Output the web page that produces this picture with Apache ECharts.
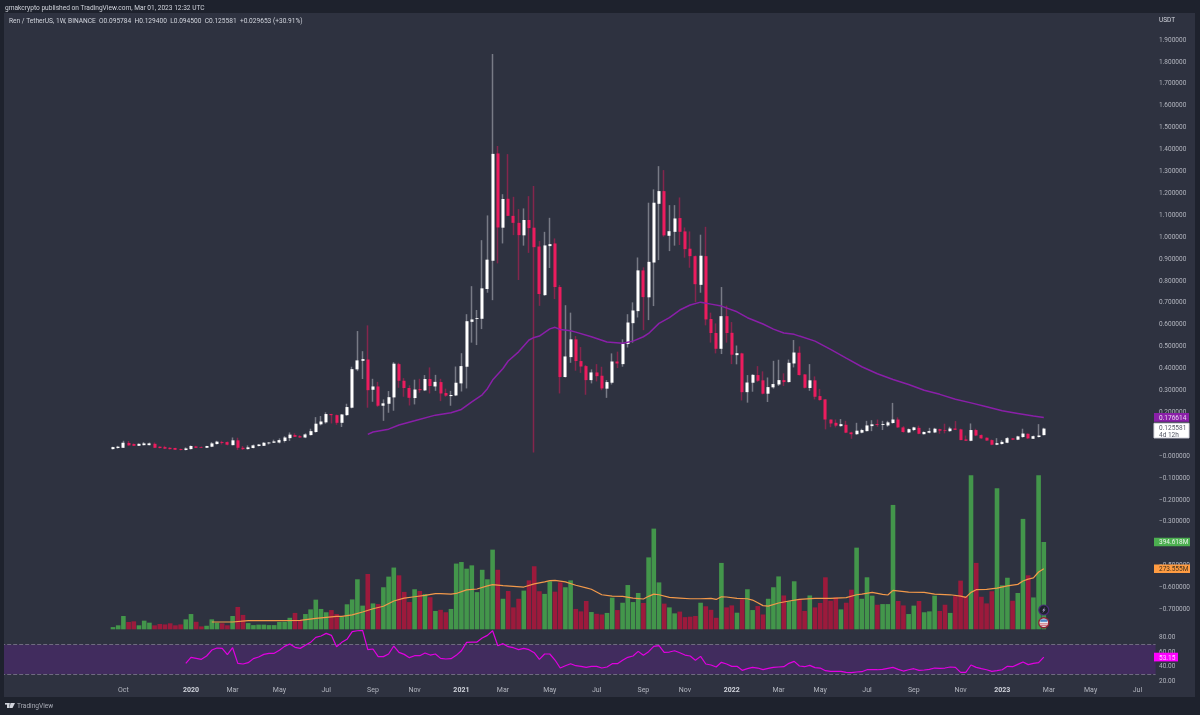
<!DOCTYPE html>
<html>
<head>
<meta charset="utf-8">
<title>Ren / TetherUS</title>
<script src="https://cdn.jsdelivr.net/npm/echarts@6/dist/echarts.min.js"></script>
<style>
html, body { margin: 0; padding: 0; background: #1e222d; }
#main { width: 1200px; height: 715px; }
</style>
</head>
<body>
<div id="main"></div>
<script>
// weekly candles, Monday of each week
var weeks = [
	'2019-09-23','2019-09-30','2019-10-07','2019-10-14','2019-10-21','2019-10-28','2019-11-04','2019-11-11','2019-11-18','2019-11-25',
	'2019-12-02','2019-12-09','2019-12-16','2019-12-23','2019-12-30','2020-01-06','2020-01-13','2020-01-20','2020-01-27','2020-02-03',
	'2020-02-10','2020-02-17','2020-02-24','2020-03-02','2020-03-09','2020-03-16','2020-03-23','2020-03-30','2020-04-06','2020-04-13',
	'2020-04-20','2020-04-27','2020-05-04','2020-05-11','2020-05-18','2020-05-25','2020-06-01','2020-06-08','2020-06-15','2020-06-22',
	'2020-06-29','2020-07-06','2020-07-13','2020-07-20','2020-07-27','2020-08-03','2020-08-10','2020-08-17','2020-08-24','2020-08-31',
	'2020-09-07','2020-09-14','2020-09-21','2020-09-28','2020-10-05','2020-10-12','2020-10-19','2020-10-26','2020-11-02','2020-11-09',
	'2020-11-16','2020-11-23','2020-11-30','2020-12-07','2020-12-14','2020-12-21','2020-12-28','2021-01-04','2021-01-11','2021-01-18',
	'2021-01-25','2021-02-01','2021-02-08','2021-02-15','2021-02-22','2021-03-01','2021-03-08','2021-03-15','2021-03-22','2021-03-29',
	'2021-04-05','2021-04-12','2021-04-19','2021-04-26','2021-05-03','2021-05-10','2021-05-17','2021-05-24','2021-05-31','2021-06-07',
	'2021-06-14','2021-06-21','2021-06-28','2021-07-05','2021-07-12','2021-07-19','2021-07-26','2021-08-02','2021-08-09','2021-08-16',
	'2021-08-23','2021-08-30','2021-09-06','2021-09-13','2021-09-20','2021-09-27','2021-10-04','2021-10-11','2021-10-18','2021-10-25',
	'2021-11-01','2021-11-08','2021-11-15','2021-11-22','2021-11-29','2021-12-06','2021-12-13','2021-12-20','2021-12-27','2022-01-03',
	'2022-01-10','2022-01-17','2022-01-24','2022-01-31','2022-02-07','2022-02-14','2022-02-21','2022-02-28','2022-03-07','2022-03-14',
	'2022-03-21','2022-03-28','2022-04-04','2022-04-11','2022-04-18','2022-04-25','2022-05-02','2022-05-09','2022-05-16','2022-05-23',
	'2022-05-30','2022-06-06','2022-06-13','2022-06-20','2022-06-27','2022-07-04','2022-07-11','2022-07-18','2022-07-25','2022-08-01',
	'2022-08-08','2022-08-15','2022-08-22','2022-08-29','2022-09-05','2022-09-12','2022-09-19','2022-09-26','2022-10-03','2022-10-10',
	'2022-10-17','2022-10-24','2022-10-31','2022-11-07','2022-11-14','2022-11-21','2022-11-28','2022-12-05','2022-12-12','2022-12-19',
	'2022-12-26','2023-01-02','2023-01-09','2023-01-16','2023-01-23','2023-01-30','2023-02-06','2023-02-13','2023-02-20','2023-02-27'
];
// empty weeks on the right of the last candle
var futureWeeks = ['2023-03-06','2023-03-13','2023-03-20','2023-03-27','2023-04-03','2023-04-10','2023-04-17','2023-04-24','2023-05-01','2023-05-08',
	'2023-05-15','2023-05-22','2023-05-29','2023-06-05','2023-06-12','2023-06-19','2023-06-26','2023-07-03','2023-07-10','2023-07-17','2023-07-24'];
var tickDates = ['2019-10-07','2020-01-06','2020-03-02','2020-05-04','2020-07-06','2020-09-07','2020-11-02','2021-01-04','2021-03-01','2021-05-03','2021-07-05','2021-09-06',
	'2021-11-01','2022-01-03','2022-03-07','2022-05-02','2022-07-04','2022-09-05','2022-11-07','2023-01-02','2023-03-06','2023-05-01','2023-07-03'];
var tickNames = ['Oct','2020','Mar','May','Jul','Sep','Nov','2021','Mar','May','Jul','Sep','Nov','2022','Mar','May','Jul','Sep','Nov','2023','Mar','May','Jul'];

var opens = [
	.032,.037,.038,.060,.055,.047,.050,.050,.056,.043,
	.041,.038,.037,.032,.028,.032,.044,.041,.038,.043,
	.055,.064,.064,.050,.072,.038,.032,.037,.046,.047,
	.058,.061,.062,.069,.082,.096,.091,.085,.096,.110,
	.145,.154,.192,.187,.152,.187,.221,.396,.435,.441,
	.303,.318,.230,.239,.268,.420,.344,.311,.265,.306,
	.300,.352,.318,.338,.288,.274,.277,.332,.408,.613,
	.626,.627,.763,.892,1.382,1.043,1.175,1.097,1.065,1.008,
	1.078,1.043,.957,.735,.959,.971,.772,.361,.452,.533,
	.434,.411,.347,.382,.367,.308,.335,.432,.420,.512,
	.607,.662,.848,.725,.884,1.152,1.210,1.006,1.024,1.087,
	1.026,.947,.913,.782,.913,.626,.562,.490,.639,.563,
	.461,.469,.292,.335,.370,.346,.285,.314,.327,.347,
	.338,.423,.472,.373,.311,.346,.274,.259,.167,.152,
	.137,.143,.108,.100,.107,.114,.137,.146,.142,.140,
	.151,.167,.131,.108,.119,.129,.100,.107,.108,.123,
	.119,.114,.126,.122,.076,.070,.119,.096,.084,.073,
	.052,.055,.061,.081,.075,.087,.102,.079,.087,.095784
];
var closes = [
	.041,.043,.061,.049,.047,.056,.058,.058,.038,.037,
	.034,.032,.029,.028,.035,.046,.038,.038,.046,.058,
	.066,.060,.052,.072,.038,.032,.040,.049,.053,.061,
	.062,.067,.073,.085,.098,.088,.085,.099,.114,.148,
	.158,.192,.187,.152,.190,.224,.397,.437,.443,.301,
	.318,.230,.241,.269,.422,.344,.311,.266,.304,.301,
	.352,.320,.339,.286,.276,.279,.335,.411,.616,.624,
	.630,.766,.897,1.380,1.044,1.174,1.097,1.065,1.009,1.078,
	1.041,.954,.740,.962,.968,.772,.361,.455,.533,.434,
	.409,.347,.382,.365,.309,.338,.432,.423,.513,.610,
	.665,.848,.726,.887,1.157,1.210,1.008,1.027,1.085,1.024,
	.945,.913,.785,.915,.624,.562,.490,.639,.562,.463,
	.470,.292,.336,.371,.344,.285,.315,.329,.347,.338,
	.426,.473,.370,.312,.346,.271,.256,.167,.149,.139,
	.146,.107,.100,.116,.119,.140,.145,.142,.146,.154,
	.167,.131,.110,.123,.131,.102,.110,.114,.125,.116,
	.116,.126,.120,.073,.070,.119,.094,.081,.071,.052,
	.059,.065,.082,.075,.090,.103,.081,.091,.094,.125581
];
var highs = [
	.043,.047,.070,.069,.058,.058,.064,.062,.062,.044,
	.047,.040,.038,.034,.040,.049,.047,.044,.047,.064,
	.070,.070,.067,.085,.084,.046,.049,.053,.055,.064,
	.064,.075,.081,.091,.108,.104,.096,.104,.125,.178,
	.183,.200,.193,.190,.192,.239,.408,.571,.479,.597,
	.353,.339,.259,.297,.429,.426,.356,.323,.349,.353,
	.370,.405,.371,.353,.308,.298,.409,.470,.648,.776,
	.667,.986,1.099,1.836,1.416,1.196,1.379,1.184,1.128,1.131,
	1.187,1.233,.982,1.024,1.088,.994,.781,.689,.655,.548,
	.498,.416,.396,.420,.408,.347,.469,.477,.533,.648,
	.702,.907,.862,1.157,1.218,1.324,1.306,1.146,1.146,1.181,
	1.044,1.026,.916,1.011,1.047,.655,.606,.772,.687,.612,
	.505,.472,.370,.374,.411,.387,.359,.435,.440,.378,
	.441,.530,.501,.374,.420,.364,.307,.259,.167,.167,
	.169,.161,.111,.152,.125,.161,.164,.167,.161,.161,
	.243,.177,.137,.126,.134,.139,.113,.129,.129,.125,
	.148,.134,.160,.125,.094,.149,.125,.099,.085,.076,
	.082,.073,.087,.082,.093,.125,.103,.094,.146,.1294
];
var lows = [
	.030,.034,.037,.047,.046,.046,.049,.049,.037,.035,
	.032,.030,.028,.026,.026,.030,.037,.037,.037,.041,
	.053,.053,.049,.049,.028,.028,.030,.035,.044,.046,
	.053,.060,.058,.062,.069,.087,.084,.082,.094,.107,
	.140,.148,.149,.143,.133,.184,.218,.388,.352,.221,
	.248,.225,.161,.198,.207,.312,.271,.231,.236,.289,
	.297,.286,.298,.251,.271,.230,.274,.295,.309,.518,
	.507,.580,.746,.712,.880,.971,1.096,1.009,.804,.961,
	.928,.017,.686,.732,.859,.717,.286,.359,.426,.390,
	.380,.280,.332,.341,.301,.266,.327,.402,.408,.496,
	.518,.633,.575,.621,.685,.895,1.002,.936,.961,.964,
	.906,.860,.703,.746,.597,.518,.469,.466,.518,.420,
	.419,.254,.244,.294,.339,.282,.247,.308,.320,.320,
	.336,.405,.368,.309,.298,.259,.253,.122,.132,.131,
	.134,.105,.079,.097,.104,.113,.114,.134,.119,.134,
	.148,.129,.107,.105,.114,.100,.099,.104,.105,.102,
	.104,.111,.119,.073,.070,.068,.091,.079,.070,.050,
	.050,.053,.059,.073,.073,.084,.079,.078,.085,.0945
];
// volume in millions
var volumes = [
	10,18,60,33,36,18,39,30,18,24,
	22,27,18,22,45,69,34,13,16,45,
	30,27,18,60,101,65,28,19,21,21,
	19,19,33,34,52,74,40,69,90,134,
	92,77,87,69,57,113,135,226,107,250,
	117,114,190,238,279,244,169,123,181,173,
	159,145,83,88,77,92,297,304,274,289,
	168,269,226,360,269,138,173,99,138,175,
	221,285,172,160,217,170,212,190,221,92,
	81,128,78,70,67,74,143,87,120,200,
	123,164,119,325,455,212,116,99,72,80,
	55,57,60,120,104,88,52,300,99,108,
	75,135,181,87,105,67,138,190,239,153,
	128,217,134,83,153,99,119,235,129,144,
	90,120,179,369,138,235,152,111,114,114,
	562,128,108,69,107,128,77,81,152,83,
	111,74,150,220,150,696,300,147,117,172,
	637,199,233,129,164,499,244,144,696,394.618
];
// 50 week average on price, read at these candle numbers
var maWeeks = [49,50,53,55,58,62,65,67,69,71,72,73,75,76,78,80,81,82,84,85,86,88,89,92,95,98,100,102,103,105,107,109,111,113,115,117,120,122,125,127,129,131,132,135,138,141,144,147,150,153,156,159,162,165,168,171,174,177,179];
var maValues = [.099,.110,.123,.142,.161,.187,.198,.213,.248,.280,.308,.347,.400,.434,.476,.530,.542,.548,.581,.588,.578,.572,.566,.545,.521,.515,.525,.545,.560,.606,.632,.667,.690,.703,.694,.685,.659,.632,.603,.580,.562,.556,.548,.525,.487,.447,.408,.376,.350,.327,.301,.282,.260,.243,.225,.207,.195,.183,.176614];
// 20 week average on volume
var volMaWeeks = [19,23,26,32,36,39,43,44,46,48,50,52,54,56,58,60,62,63,65,66,68,70,72,73,75,77,79,81,83,84,85,87,89,91,92,94,96,98,100,102,103,104,105,107,109,111,113,115,116,117,118,120,122,123,124,125,126,128,130,132,135,138,141,143,144,146,148,149,150,153,156,158,161,163,164,165,166,168,170,172,174,175,176,177,178,179];
var volMaValues = [33,33,39,39,40,49,58,58,65,78,93,104,128,141,147,153,161,161,159,162,178,182,196,202,197,194,191,205,214,220,221,214,199,187,181,156,150,149,141,137,149,159,156,144,141,138,138,140,135,147,146,140,138,132,120,107,105,119,128,135,140,140,143,156,159,167,158,155,176,168,167,159,156,150,144,167,179,180,186,196,203,218,227,232,259,273.555];
// RSI from candle number 14
var rsiValues = [
	44.6,52.8,51.4,50,54.6,62.7,65.5,65,56.4,65.9,44.6,43.7,45.5,51,53.2,56.8,
	58.2,58.2,62.3,67.7,70.9,66.4,65,69.1,73.2,80,81.8,85.4,82.7,67.3,73.2,77.3,
	87.7,89,89.5,63.2,64.1,53.7,53.7,57.3,68.2,59.6,56.8,52.3,55,55,58.7,55.9,
	57.3,51.4,50.5,51,55.5,61.8,73.2,73.6,73.6,79,82.7,89,68.6,71.4,67.3,65.9,
	63.2,65,63.2,59.1,50,57.3,57.3,49.1,38.2,41.4,44.1,41.4,40.5,39.2,40.5,40.5,
	38.2,39.6,44.1,44.1,48.7,52.8,54.6,60.9,55.5,60.5,67.7,68.6,59.6,60,61.8,59.1,
	55.9,54.6,48.7,54.1,43.7,42.3,39.6,46,43.7,40.5,40.5,35.1,37.3,39.2,38.2,36,
	37.8,39.1,39.6,40,44.6,47.3,41,40,41.8,38.7,38.2,34.6,33.7,33.7,33.7,32.3,
	31.9,32.8,33.2,35.9,35.9,35.9,36.4,37.8,39.1,36.4,34.1,35.9,37.3,35,35.5,36.4,
	38.2,37.8,38.2,39.6,39.1,32.3,32.3,42.3,39.1,37.3,35.9,33.7,34.6,35.9,40.5,40,
	43.2,46.4,42.8,44.6,45.5,53.15
];

var PAD = 21; // empty weeks left of the first candle
var UP = '#ffffff', DOWN = '#ec1c5e';
var LABEL = '#b2b5be', PANEL = '#2e3240', DARK = '#1e222d';

var categories = [];
for (var i = 0; i < PAD; i++) categories.push('');
categories = categories.concat(weeks, futureWeeks);

var tickMap = {};
tickDates.forEach(function (d, i) { tickMap[d] = tickNames[i]; });

var wickData = [], bodyData = [], volData = [], rsiData = [];
for (var i = 0; i < PAD; i++) {
	wickData.push(['-', '-', '-', '-']);
	bodyData.push(['-', '-', '-', '-']);
	volData.push('-');
	rsiData.push('-');
}
weeks.forEach(function (d, i) {
	wickData.push([opens[i], closes[i], lows[i], highs[i]]);
	bodyData.push([opens[i], closes[i], Math.min(opens[i], closes[i]), Math.max(opens[i], closes[i])]);
	volData.push({
		value: volumes[i],
		itemStyle: { color: closes[i] >= opens[i] ? '#43964b' : '#9c1a3c' }
	});
	rsiData.push(i < 14 ? '-' : rsiValues[i - 14]);
});
var maData = maWeeks.map(function (w, i) { return [w + PAD, maValues[i]]; });
var volMaData = volMaWeeks.map(function (w, i) { return [w + PAD, volMaValues[i]]; });

function hiddenX(gridIndex) {
	return { type: 'category', gridIndex: gridIndex, data: categories, show: false };
}

var option = {
	animation: false,
	backgroundColor: DARK,
	textStyle: { fontFamily: 'Roboto' },
	grid: [
		{ left: 1.2, width: 1154.4, top: 40, height: 591.3 },
		{ left: 1.2, width: 1154.4, top: 474.4, height: 154.9 },
		{ left: 1.2, width: 1154.4, top: 630, height: 51.4 }
	],
	xAxis: [
		hiddenX(0),
		hiddenX(1),
		{
			type: 'category', gridIndex: 2, data: categories,
			axisLine: { show: false },
			axisTick: { show: false },
			axisLabel: {
				margin: 5,
				interval: function (index, value) { return tickMap[value] !== undefined; },
				formatter: function (value) {
					var name = tickMap[value];
					return name.length == 4 ? '{y|' + name + '}' : '{m|' + name + '}';
				},
				rich: {
					y: { color: '#d1d4dc', fontSize: 7, fontWeight: 'bold', fontFamily: 'Roboto' },
					m: { color: LABEL, fontSize: 7, fontFamily: 'Roboto' }
				}
			}
		}
	],
	yAxis: [
		{
			type: 'value', gridIndex: 0, position: 'right', min: -0.8, max: 1.9, interval: 0.1,
			splitLine: { show: false },
			axisLine: { show: false },
			axisTick: { show: false },
			axisLabel: {
				color: LABEL, fontSize: 6.5, margin: 3.4,
				formatter: function (v) {
					if (v < -0.75) return '';
					return (v <= 0 ? '\u2212' : '') + Math.abs(v).toFixed(6);
				}
			}
		},
		{ type: 'value', gridIndex: 1, min: 0, max: 700, show: false },
		{
			type: 'value', gridIndex: 2, position: 'right', min: 20, max: 90, interval: 20,
			splitLine: { show: false },
			axisLine: { show: false },
			axisTick: { show: false },
			axisLabel: {
				color: LABEL, fontSize: 6.5, margin: 3.4,
				formatter: function (v) { return v > 80 ? '' : v.toFixed(2); }
			}
		}
	],
	series: [
		{
			name: 'Volume', type: 'bar', xAxisIndex: 1, yAxisIndex: 1, data: volData, barWidth: 4.6, z: 1
		},
		{
			name: 'Volume MA', type: 'line', xAxisIndex: 1, yAxisIndex: 1, data: volMaData, showSymbol: false,
			lineStyle: { color: '#f2994a', width: 1.2 }, z: 3
		},
		{
			name: 'Wicks', type: 'candlestick', xAxisIndex: 0, yAxisIndex: 0, data: wickData, barWidth: 1,
			itemStyle: { color: '#787b86', color0: '#84264c', borderColor: '#787b86', borderColor0: '#84264c', borderWidth: 1.5 }, z: 4
		},
		{
			name: 'Bodies', type: 'candlestick', xAxisIndex: 0, yAxisIndex: 0, data: bodyData, barWidth: 3.6,
			itemStyle: { color: UP, color0: DOWN, borderColor: UP, borderColor0: DOWN, borderWidth: 0 }, z: 5
		},
		{
			name: 'MA', type: 'line', xAxisIndex: 0, yAxisIndex: 0, data: maData, showSymbol: false,
			lineStyle: { color: '#8a1fa8', width: 1.5 }, z: 6
		},
		{
			name: 'RSI', type: 'line', xAxisIndex: 2, yAxisIndex: 2, data: rsiData, showSymbol: false,
			lineStyle: { color: '#e000e0', width: 1.2 }, z: 6,
			markArea: {
				silent: true, itemStyle: { color: '#412c5e' },
				data: [[{ yAxis: 70 }, { yAxis: 30 }]]
			},
			markLine: {
				silent: true, symbol: 'none', label: { show: false },
				lineStyle: { color: '#6f6a80', type: 'dashed', width: 1 },
				data: [{ yAxis: 70 }, { yAxis: 30 }]
			}
		}
	]
};

var chart = echarts.init(document.getElementById('main'), null, { renderer: 'canvas' });
chart.setOption(option);

// price tag on the right scale, placed from its value
function tag(text, axisIndex, value, bg, fg, w, h, border) {
	var y = chart.convertToPixel({ yAxisIndex: axisIndex }, value);
	return {
		type: 'group', z: 60, children: [
			{ type: 'rect', z: 60, shape: { x: 1154, y: y - h / 2, width: w, height: h }, style: { fill: bg, stroke: border || bg, lineWidth: border ? 1 : 0 } },
			{ type: 'text', z: 61, style: { x: 1159, y: y - h / 2 + 1.7, text: text, fill: fg, font: '6.5px Roboto', lineHeight: 7 } }
		]
	};
}

var lastX = chart.convertToPixel({ xAxisIndex: 0 }, weeks.length - 1 + PAD);

chart.setOption({
	graphic: [
		{ type: 'rect', z: -1, shape: { x: 4, y: 13, width: 1191, height: 684 }, style: { fill: PANEL } },
		{ type: 'rect', z: 50, shape: { x: 0, y: 13, width: 4, height: 684 }, style: { fill: DARK } },
		{ type: 'rect', z: 50, shape: { x: 1154, y: 683.5, width: 41, height: 13.5 }, style: { fill: PANEL } },
		{ type: 'text', z: 60, style: { x: 5, y: 4.5, text: 'gmakcrypto published on TradingView.com, Mar 01, 2023 12:32 UTC', fill: '#d1d4dc', font: '6.6px Roboto' } },
		{ type: 'text', z: 60, style: { x: 9, y: 18, text: 'Ren / TetherUS, 1W, BINANCE  O0.095784  H0.129400  L0.094500  C0.125581  +0.029653 (+30.91%)', fill: '#d1d4dc', font: '6.6px Roboto' } },
		{ type: 'text', z: 60, style: { x: 1159, y: 17, text: 'USDT', fill: '#d1d4dc', font: '6.5px Roboto' } },
		{ type: 'text', z: 60, style: { x: 17, y: 703, text: 'TradingView', fill: '#a8abb5', font: '6.6px Roboto' } },
		// logo
		{ type: 'rect', z: 60, shape: { x: 5, y: 703, width: 4.5, height: 1.6 }, style: { fill: '#d1d4dc' } },
		{ type: 'rect', z: 60, shape: { x: 7, y: 703, width: 2.5, height: 5 }, style: { fill: '#d1d4dc' } },
		{ type: 'polygon', z: 60, shape: { points: [[10.5, 703], [15, 703], [12.5, 708], [9.5, 708]] }, style: { fill: '#d1d4dc' } },
		// event badges above the last volume bar
		{ type: 'circle', z: 60, shape: { cx: lastX, cy: 610, r: 5 }, style: { fill: '#1e222d', stroke: '#4b2a7a', lineWidth: 1.2 } },
		{ type: 'polygon', z: 61, shape: { points: [[lastX + 1.5, 606.8], [lastX - 1.6, 610.6], [lastX, 610.6], [lastX - 1.5, 613.2], [lastX + 1.7, 609.4], [lastX, 609.4]] }, style: { fill: '#b4a0d8' } },
		{ type: 'circle', z: 60, shape: { cx: lastX, cy: 622.7, r: 5 }, style: { fill: '#e6e6ee', stroke: '#8d2033', lineWidth: 1.4 } },
		{ type: 'rect', z: 61, shape: { x: lastX - 3.5, y: 619.4, width: 7, height: 2.4 }, style: { fill: '#4b84c4' } },
		{ type: 'rect', z: 61, shape: { x: lastX - 4, y: 623.4, width: 8, height: 0.9 }, style: { fill: '#d05a66' } },
		{ type: 'rect', z: 61, shape: { x: lastX - 3.4, y: 625.2, width: 6.8, height: 0.9 }, style: { fill: '#d05a66' } },
		// last value tags
		tag('0.176614', 0, maValues[maValues.length - 1], '#8a1fa8', '#e8d6ee', 35, 8.7),
		tag('0.125581\n4d 12h', 0, 0.1165, '#ffffff', '#555866', 35, 14.7, '#d8d8e0'),
		tag('394.618M', 1, volumes[volumes.length - 1], '#4caf50', '#e8f5e9', 36, 8.7),
		tag('273.555M', 1, volMaValues[volMaValues.length - 1], '#ff9c42', '#40301c', 36, 8.7),
		tag('53.15', 2, rsiValues[rsiValues.length - 1], '#ff00ff', '#ffd0ff', 24, 8.7)
	]
});
</script>
</body>
</html>
